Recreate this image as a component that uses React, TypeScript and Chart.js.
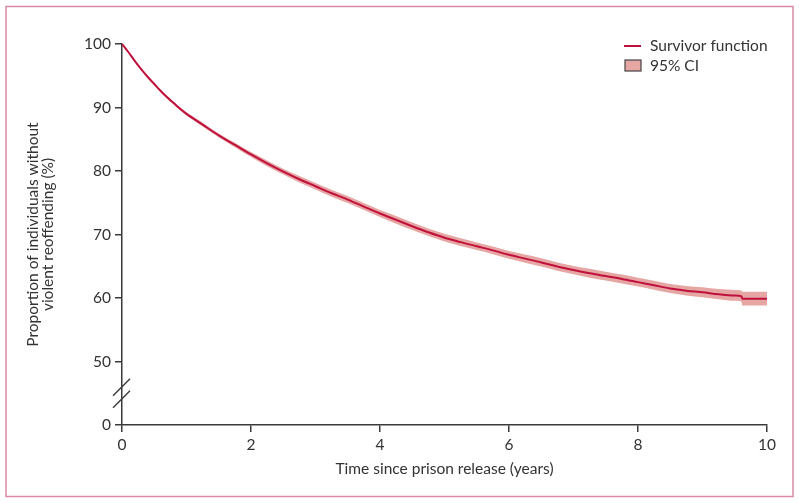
import React, { useEffect, useRef } from 'react';
import { Chart, registerables } from 'chart.js';

Chart.register(...registerables);

// Time since release (years)
const times = [0, 0.1, 0.2, 0.3, 0.4, 0.5, 0.6, 0.7, 0.8, 0.9, 1, 1.25, 1.5, 1.75, 2, 2.25, 2.5, 2.75, 3, 3.25, 3.5, 3.75, 4, 4.25, 4.5, 4.75, 5, 5.25, 5.5, 5.75, 6, 6.25, 6.5, 6.75, 7, 7.25, 7.5, 7.75, 8, 8.25, 8.5, 8.75, 9, 9.25, 9.5, 9.6, 9.62, 10];
// Survivor function (%)
const survival = [100, 98.7, 97.3, 96.0, 94.8, 93.7, 92.6, 91.6, 90.7, 89.8, 89.0, 87.3, 85.6, 84.1, 82.6, 81.2, 79.9, 78.7, 77.6, 76.5, 75.5, 74.4, 73.3, 72.3, 71.3, 70.35, 69.5, 68.8, 68.15, 67.5, 66.8, 66.2, 65.6, 64.95, 64.4, 63.9, 63.45, 63.0, 62.5, 62.0, 61.5, 61.15, 60.9, 60.6, 60.4, 60.3, 59.9, 59.9];
// 95% CI bounds (%)
const ciLower = [100, 98.65, 97.22, 95.9, 94.68, 93.55, 92.43, 91.42, 90.5, 89.58, 88.76, 87.0, 85.3, 83.75, 82.2, 80.75, 79.45, 78.2, 77.1, 75.95, 74.95, 73.85, 72.75, 71.7, 70.7, 69.75, 68.9, 68.2, 67.55, 66.9, 66.2, 65.55, 64.95, 64.3, 63.75, 63.2, 62.75, 62.3, 61.8, 61.3, 60.8, 60.4, 60.1, 59.8, 59.55, 59.45, 58.8, 58.8];
const ciUpper = [100, 98.75, 97.38, 96.1, 94.92, 93.85, 92.77, 91.78, 90.9, 90.02, 89.24, 87.6, 85.9, 84.45, 83.0, 81.65, 80.35, 79.2, 78.1, 77.05, 76.05, 74.95, 73.85, 72.9, 71.9, 70.95, 70.1, 69.4, 68.75, 68.1, 67.4, 66.85, 66.25, 65.6, 65.05, 64.6, 64.15, 63.7, 63.2, 62.7, 62.2, 61.9, 61.7, 61.4, 61.25, 61.2, 61.0, 61.0];

const xTicks = [0, 2, 4, 6, 8, 10];
// the lowest tick sits below an axis break and is labelled "0"
const yTicks = [40, 50, 60, 70, 80, 90, 100];
const yTickLabels = ['0', '50', '60', '70', '80', '90', '100'];

const xTitle = 'Time since prison release (years)';
const yTitleLines = ['Proportion of individuals without', 'violent reoffending (%)'];
const legendLabels = ['Survivor function', '95% CI'];

const LINE = '#c0103c';
const BAND = '#e6a6a3';
const AXIS = '#3a3a3a';
const TEXT = '#333333';
const FRAME = '#d98aa2';
const FONT = 'Lato, "Open Sans", sans-serif';
const FS = 15.5;

export default function App() {
  const ref = useRef<HTMLCanvasElement | null>(null);

  useEffect(() => {
    const canvas = ref.current;
    if (!canvas) return;

    const decor = {
      id: 'decor',
      afterDraw(chart: any) {
        const ctx = chart.ctx;
        const y = chart.scales.y;
        const x = chart.scales.x;
        ctx.save();
        // frame
        ctx.strokeStyle = FRAME;
        ctx.lineWidth = 1.5;
        ctx.strokeRect(6, 6.5, 787, 490);

        // axis break marks
        const bx = x.left;
        const by = y.getPixelForValue(45);
        ctx.strokeStyle = AXIS;
        ctx.lineWidth = 1.5;
        for (const off of [-6, 6]) {
          ctx.beginPath();
          ctx.moveTo(bx - 9, by + off + 8.5);
          ctx.lineTo(bx + 8, by + off - 8.5);
          ctx.stroke();
        }

        // titles
        ctx.fillStyle = TEXT;
        ctx.font = `${FS}px ${FONT}`;
        ctx.textAlign = 'center';
        ctx.textBaseline = 'middle';
        ctx.fillText(xTitle, (x.left + x.right) / 2, 469);

        const cy = (y.top + y.bottom) / 2;
        ctx.save();
        ctx.translate(33, cy);
        ctx.rotate(-Math.PI / 2);
        ctx.fillText(yTitleLines[0], 0, 0);
        ctx.fillText(yTitleLines[1], 0, 15);
        ctx.restore();

        // legend
        ctx.strokeStyle = LINE;
        ctx.lineWidth = 2;
        ctx.beginPath();
        ctx.moveTo(624, 46);
        ctx.lineTo(641, 46);
        ctx.stroke();
        ctx.fillStyle = BAND;
        ctx.fillRect(625, 60, 16, 11);
        ctx.strokeStyle = '#444';
        ctx.lineWidth = 1.2;
        ctx.strokeRect(625, 60, 16, 11);
        ctx.fillStyle = TEXT;
        ctx.textAlign = 'left';
        ctx.fillText(legendLabels[0], 650, 46);
        ctx.fillText(legendLabels[1], 650, 66);
        ctx.restore();
      },
    };

    const common = { pointRadius: 0, cubicInterpolationMode: 'monotone' as const };

    const chart = new Chart(canvas, {
      type: 'line',
      data: {
        datasets: [
          {
            ...common,
            label: legendLabels[0],
            data: times.map((t, i) => ({ x: t, y: survival[i] })),
            borderColor: LINE,
            borderWidth: 2,
            fill: false,
          },
          {
            ...common,
            label: 'lower',
            data: times.map((t, i) => ({ x: t, y: ciLower[i] })),
            borderWidth: 0,
            borderColor: 'rgba(0,0,0,0)',
            fill: false,
          },
          {
            ...common,
            label: legendLabels[1],
            data: times.map((t, i) => ({ x: t, y: ciUpper[i] })),
            borderWidth: 0,
            borderColor: 'rgba(0,0,0,0)',
            backgroundColor: BAND,
            fill: '-1',
          },
        ],
      },
      options: {
        animation: false,
        responsive: false,
        events: [],
        layout: { padding: { top: 44, right: 33, left: 0, bottom: 0 } },
        plugins: {
          legend: { display: false },
          tooltip: { enabled: false },
          title: { display: false },
        },
        scales: {
          x: {
            type: 'linear',
            min: 0,
            max: 10,
            afterBuildTicks: (s: any) => {
              s.ticks = xTicks.map((v) => ({ value: v }));
            },
            afterFit: (s: any) => {
              s.height = 78;
            },
            grid: { display: true, drawOnChartArea: false, drawTicks: true, tickLength: 7, color: AXIS, lineWidth: 1.5 },
            border: { display: true, color: AXIS, width: 1.5 },
            ticks: { padding: 4, color: TEXT, font: { family: FONT, size: FS }, maxRotation: 0 },
          },
          y: {
            type: 'linear',
            min: 40,
            max: 100,
            afterBuildTicks: (s: any) => {
              s.ticks = yTicks.map((v) => ({ value: v }));
            },
            afterFit: (s: any) => {
              s.width = 122;
            },
            grid: { display: true, drawOnChartArea: false, drawTicks: true, tickLength: 7, color: AXIS, lineWidth: 1.5 },
            border: { display: true, color: AXIS, width: 1.5 },
            ticks: {
              padding: 4,
              color: TEXT,
              font: { family: FONT, size: FS },
              callback: (v: any) => {
                const i = yTicks.indexOf(Number(v));
                return i >= 0 ? yTickLabels[i] : '';
              },
            },
          },
        },
      },
      plugins: [decor],
    });

    return () => chart.destroy();
  }, []);

  return (
    <div style={{ position: 'fixed', left: 0, top: 0, width: 800, height: 503, background: '#fff' }}>
      <canvas ref={ref} width={800} height={503} style={{ display: 'block', width: 800, height: 503 }} />
    </div>
  );
}
